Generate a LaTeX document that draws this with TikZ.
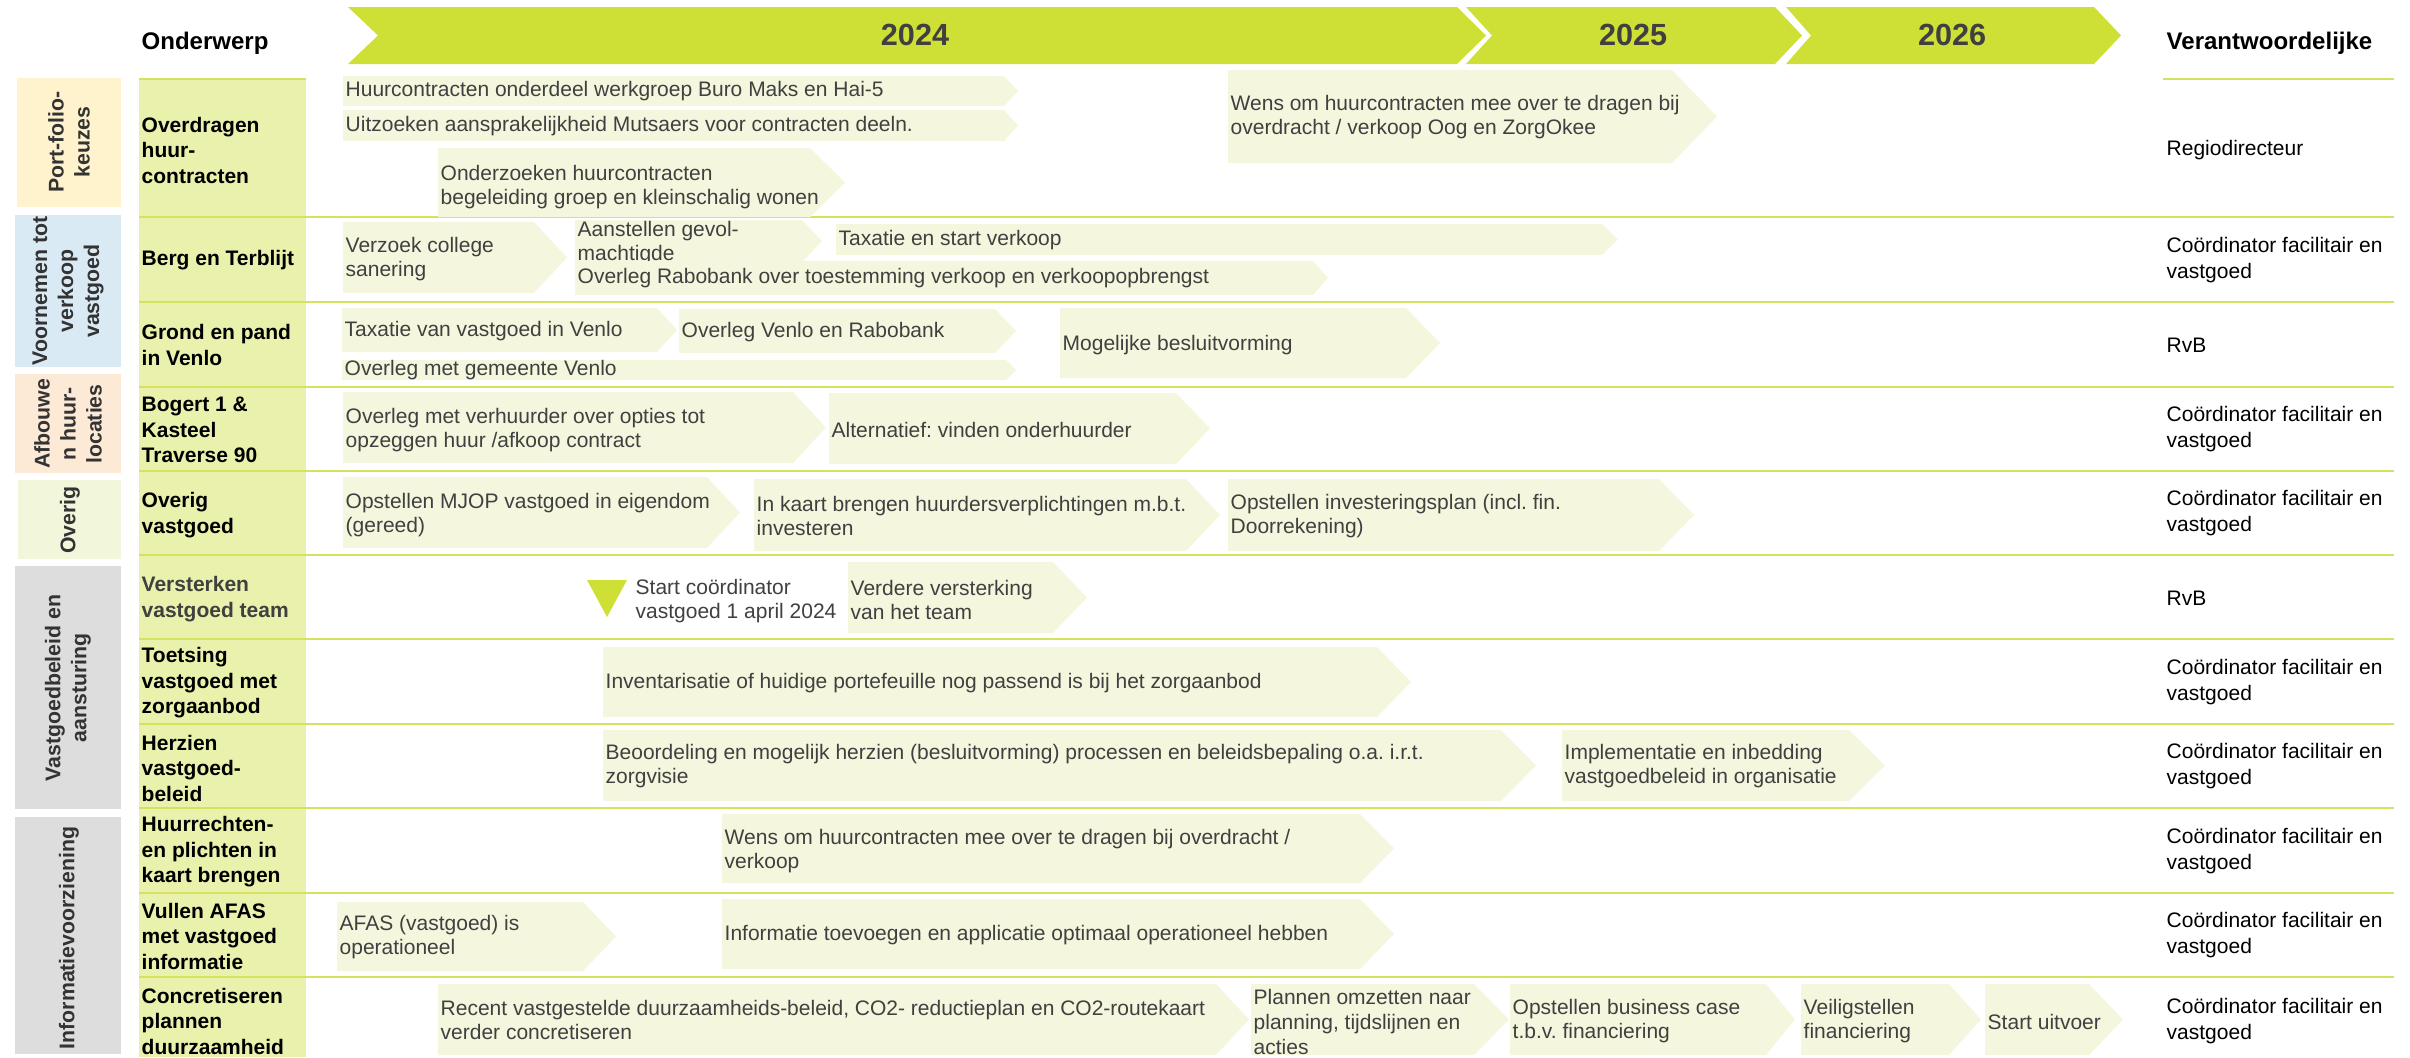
\documentclass[tikz,border=0pt]{standalone}
\usepackage{fontspec}
\setmainfont{Liberation Sans}
\usepackage{tikz}
\frenchspacing
\definecolor{kopgroen}{HTML}{CEDF36}
\definecolor{kolomgroen}{HTML}{EAF1AD}
\definecolor{stapgroen}{HTML}{F4F7DD}
\definecolor{lijngroen}{HTML}{D4E25E}
\definecolor{tekstgrijs}{HTML}{404040}
\definecolor{catgeel}{HTML}{FFF3CE}
\definecolor{catblauw}{HTML}{DAEAF5}
\definecolor{catoranje}{HTML}{FDEAD6}
\definecolor{catgroen}{HTML}{F2F6DA}
\definecolor{catgrijs}{HTML}{DDDDDD}
% stap: x links, y boven, x hoek, x punt, y onder
\def\stap#1#2#3#4#5{\fill[stapgroen] (#1,#2) -- (#3,#2) -- (#4,{(#2+#5)/2}) -- (#3,#5) -- (#1,#5) -- cycle;}

\begin{document}
\begin{tikzpicture}[x=0.01cm,y=-0.01cm,
  txt/.style={anchor=west,inner sep=0pt,align=left,text=tekstgrijs,font=\fontsize{5.97}{7}\selectfont},
  onderwerp/.style={anchor=west,inner sep=0pt,align=left,font=\bfseries\fontsize{5.97}{7.25}\selectfont},
  verantw/.style={anchor=west,inner sep=0pt,align=left,font=\fontsize{5.97}{7.4}\selectfont},
  catlabel/.style={rotate=90,inner sep=0pt,align=center,text=black!80,font=\bfseries\fontsize{6.05}{7.4}\selectfont},
  jaar/.style={inner sep=0pt,text=tekstgrijs,font=\bfseries\fontsize{8.7}{10}\selectfont},
  kop/.style={anchor=west,inner sep=0pt,font=\bfseries\fontsize{6.83}{8}\selectfont},
  lijn/.style={draw=lijngroen,line width=0.55pt}]
\useasboundingbox (0,0) rectangle (2410,1057);

%%% kop %%%%
\fill[kopgroen] (348,7) -- (1457,7) -- (1486,35.5) -- (1457,64) -- (348,64) -- (378,35.5) -- cycle;
\fill[kopgroen] (1466,7) -- (1775,7) -- (1802,35.5) -- (1775,64) -- (1466,64) -- (1492,35.5) -- cycle;
\fill[kopgroen] (1786,7) -- (2094,7) -- (2121,35.5) -- (2094,64) -- (1786,64) -- (1811,35.5) -- cycle;
\node[jaar] (j2024) at (915,35) {2024};
\node[jaar] (j2025) at (1633,35) {2025};
\node[jaar] (j2026) at (1952,35) {2026};
\node[kop] (onderwerp) at (141,43) {Onderwerp};
\node[kop] (verantwoordelijke) at (2166,43) {Verantwoordelijke};

%%% kolommen %%%%
\fill[kolomgroen] (139,78) rectangle (306,1057);
\fill[catgeel] (17,78) rectangle (121,207);
\fill[catblauw] (15,215) rectangle (121,367);
\fill[catoranje] (15,374) rectangle (121,473);
\fill[catgroen] (18,480) rectangle (121,559);
\fill[catgrijs] (15,566) rectangle (121,809);
\fill[catgrijs] (15,817) rectangle (121,1054);

\node[catlabel] (portfolio) at (69,142) {Port-folio-\\keuzes};
\node[catlabel] (voornemen) at (68,291) {Voornemen tot\\verkoop\\vastgoed};
\node[catlabel] (afbouwen) at (68,424) {Afbouwe\\n huur-\\locaties};
\node[catlabel] (overig) at (70,520) {Overig};
\node[catlabel] (beleid) at (68,688) {Vastgoedbeleid en\\aansturing};
\node[catlabel] (info) at (69,938) {Informatievoorziening};

%% lijnen
\draw[lijn] (139,79) -- (306,79);
\draw[lijn] (2163,79) -- (2394,79);
\foreach \y in {217,302,387,471,555,639,724,808,893,977}
  \draw[lijn] (139,\y) -- (2394,\y);

%% onderwerpen
\node[onderwerp] (o1) at (141,150) {Overdragen\\huur-\\contracten};
\node[onderwerp] (o2) at (141,260) {Berg en Terblijt};
\node[onderwerp] (o3) at (141,345) {Grond en pand\\in Venlo};
\node[onderwerp] (o4) at (141,430) {Bogert 1 \&\\Kasteel\\Traverse 90};
\node[onderwerp] (o5) at (141,515) {Overig\\vastgoed};
\node[onderwerp,text=tekstgrijs] (o6) at (141,599) {Versterken\\vastgoed team};
\node[onderwerp] (o7) at (141,683) {Toetsing\\vastgoed met\\zorgaanbod};
\node[onderwerp] (o8) at (141,768) {Herzien\\vastgoed-\\beleid};
\node[onderwerp] (o9) at (141,852) {Huurrechten-\\en plichten in\\kaart brengen};
\node[onderwerp] (o10) at (141,936) {Vullen AFAS\\met vastgoed\\informatie};
\node[onderwerp] (o11) at (141,1021) {Concretiseren\\plannen\\duurzaamheid};

%%% stappen %%%%
%% rij 1
\stap{343}{76}{1004}{1018}{106}
\stap{343}{110}{1004}{1018}{141}
\stap{438}{148}{810}{845}{217}
\stap{1228}{70}{1672}{1717}{163}
\node[txt] (s1a) at (345,91) {Huurcontracten onderdeel werkgroep Buro Maks en Hai-5};
\node[txt] (s1b) at (345,126) {Uitzoeken aansprakelijkheid Mutsaers voor contracten deeln.};
\node[txt] (s1c) at (440,187) {Onderzoeken huurcontracten\\begeleiding groep en kleinschalig wonen};
\node[txt] (s1d) at (1230,117) {Wens om huurcontracten mee over te dragen bij\\overdracht / verkoop Oog en ZorgOkee};

%% rij 2
\stap{343}{222}{534}{567}{293}
\stap{575}{220}{802}{822}{262}
\stap{836}{224}{1602}{1618}{255}
\node[txt] (s2a) at (345,259) {Verzoek college\\sanering};
\node[txt] (s2b) at (577,243) {Aanstellen gevol-\\machtigde};
\stap{575}{261}{1313}{1328}{295}
\node[txt] (s2c) at (838,240) {Taxatie en start verkoop};
\node[txt] (s2d) at (577,278) {Overleg Rabobank over toestemming verkoop en verkoopopbrengst};

%% rij 3
\stap{342}{308}{657}{677}{352}
\stap{679}{309}{995}{1016}{353}
\stap{1060}{308}{1406}{1440}{378}
\stap{342}{360}{1006}{1016}{380}
\node[txt] (s3a) at (344,331) {Taxatie van vastgoed in Venlo};
\node[txt] (s3b) at (681,332) {Overleg Venlo en Rabobank};
\node[txt] (s3c) at (1062,345) {Mogelijke besluitvorming};
\node[txt] (s3d) at (344,370) {Overleg met gemeente Venlo};

%% rij 4
\stap{343}{392}{793}{826}{463}
\stap{829}{393}{1176}{1210}{464}
\node[txt] (s4a) at (345,430) {Overleg met verhuurder over opties tot\\opzeggen huur /afkoop contract};
\node[txt] (s4b) at (831,430) {Alternatief: vinden onderhuurder};

%% rij 5
\stap{343}{477}{707}{740}{548}
\stap{754}{479}{1186}{1220}{551}
\stap{1228}{479}{1659}{1694}{551}
\node[txt] (s5a) at (345,515) {Opstellen MJOP vastgoed in eigendom\\(gereed)};
\node[txt] (s5b) at (756,516) {In kaart brengen huurdersverplichtingen m.b.t.\\investeren};
\node[txt] (s5c) at (1230,516) {Opstellen investeringsplan (incl. fin.\\Doorrekening)};

%% rij 6
\fill[kopgroen] (587,580) -- (627,580) -- (607,617) -- cycle;
\node[txt] (start) at (635,601) {Start coördinator\\vastgoed 1 april 2024};
\stap{848}{562}{1053}{1087}{633}
\node[txt] (s6a) at (850,600) {Verdere versterking\\van het team};

%% rij 7
\stap{603}{647}{1377}{1411}{717}
\node[txt] (s7a) at (605,683) {Inventarisatie of huidige portefeuille nog passend is bij het zorgaanbod};

%% rij 8
\stap{603}{730}{1501}{1536}{801}
\stap{1562}{730}{1849}{1885}{801}
\node[txt] (s8a) at (605,766) {Beoordeling en mogelijk herzien (besluitvorming) processen en beleidsbepaling o.a. i.r.t.\\zorgvisie};
\node[txt] (s8b) at (1564,766) {Implementatie en inbedding\\vastgoedbeleid in organisatie};

%% rij 9
\stap{722}{814}{1360}{1394}{883}
\node[txt] (s9a) at (724,851) {Wens om huurcontracten mee over te dragen bij overdracht /\\verkoop};

%% rij 10
\stap{337}{902}{583}{616}{971}
\stap{722}{899}{1360}{1394}{969}
\node[txt] (s10a) at (339,937) {AFAS (vastgoed) is\\operationeel};
\node[txt] (s10b) at (724,935) {Informatie toevoegen en applicatie optimaal operationeel hebben};

%% rij 11
\stap{438}{984}{1216}{1249}{1055}
\stap{1251}{984}{1474}{1509}{1055}
\stap{1510}{984}{1766}{1795}{1055}
\stap{1801}{984}{1949}{1981}{1055}
\stap{1985}{984}{2089}{2123}{1055}
\node[txt] (s11a) at (440,1020) {Recent vastgestelde duurzaamheids-beleid, CO2- reductieplan en CO2-routekaart\\verder concretiseren};
\node[txt] (s11b) at (1253,1022) {Plannen omzetten naar\\planning, tijdslijnen en\\acties};
\node[txt] (s11c) at (1512,1021) {Opstellen business case\\t.b.v. financiering};
\node[txt] (s11d) at (1803,1021) {Veiligstellen\\financiering};
\node[txt] (s11e) at (1987,1022) {Start uitvoer};

%%% verantwoordelijken %%%%
\node[verantw] (v1) at (2166,150) {Regiodirecteur};
\node[verantw] (v2) at (2166,260) {Coördinator facilitair en\\vastgoed};
\node[verantw] (v3) at (2166,345) {RvB};
\node[verantw] (v4) at (2166,429) {Coördinator facilitair en\\vastgoed};
\node[verantw] (v5) at (2166,513) {Coördinator facilitair en\\vastgoed};
\node[verantw] (v6) at (2166,598) {RvB};
\node[verantw] (v7) at (2166,682) {Coördinator facilitair en\\vastgoed};
\node[verantw] (v8) at (2166,766) {Coördinator facilitair en\\vastgoed};
\node[verantw] (v9) at (2166,851) {Coördinator facilitair en\\vastgoed};
\node[verantw] (v10) at (2166,935) {Coördinator facilitair en\\vastgoed};
\node[verantw] (v11) at (2166,1021) {Coördinator facilitair en\\vastgoed};

\end{tikzpicture}
\end{document}
